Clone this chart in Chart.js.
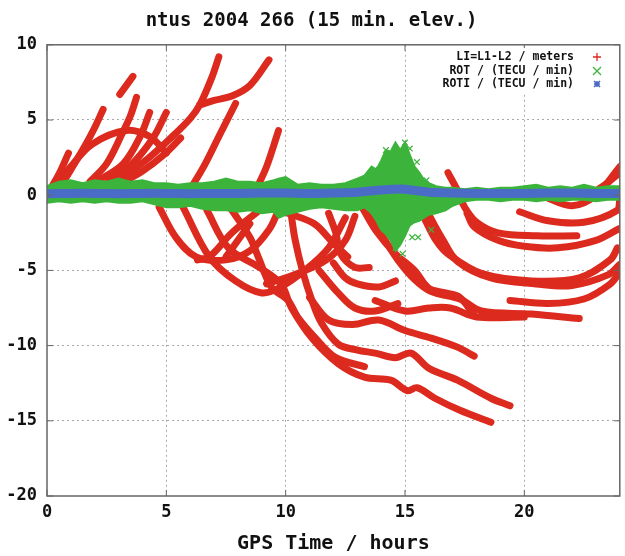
<!DOCTYPE html>
<html>
<head>
<meta charset="utf-8">
<script src="https://cdn.jsdelivr.net/npm/chart.js@4/dist/chart.umd.min.js"></script>
<style>
  html, body { margin: 0; padding: 0; background: #fff; }
  #grafico { display: block; }
</style>
</head>
<body>
<canvas id="grafico" width="625" height="556"></canvas>
<script>
// LI = L1-L2 arcs (hours, meters)
const arcosArriba = [
  [[0.1, 0.3], [0.5, 1.4], [0.9, 2.8]],
  [[0.5, 0.4], [1.0, 1.7], [1.6, 3.3], [2.0, 4.5], [2.35, 5.7]],
  [[3.05, 6.7], [3.6, 7.9]],
  [[1.8, 0.9], [2.5, 2.1], [3.15, 4.1], [3.5, 5.3], [3.75, 6.5]],
  [[2.2, 1.0], [3.2, 2.1], [3.9, 3.9], [4.3, 5.5]],
  [[2.6, 1.0], [3.45, 1.9], [4.4, 3.7], [5.0, 5.5]],
  [[0.4, 0.6], [1.0, 1.9], [1.9, 3.4], [3.3, 4.3], [4.3, 3.9], [5.0, 2.8]],
  [[3.0, 0.7], [4.0, 1.6], [4.9, 2.7], [5.6, 3.8]],
  [[2.9, 0.9], [4.2, 2.4], [5.25, 3.9], [6.0, 5.1], [6.4, 6.0], [6.9, 7.8], [7.2, 9.2]],
  [[6.4, 6.0], [7.0, 6.3], [7.75, 6.6], [8.5, 7.3], [9.3, 9.0]],
  [[6.0, 0.4], [6.6, 2.0], [7.2, 3.9], [7.9, 6.1]],
  [[8.8, 0.5], [9.2, 1.9], [9.7, 4.3]],
  [[20.2, 0.4], [21.0, -0.2], [22.0, -0.7], [23.0, 0.0], [24.0, 1.9]],
  [[22.5, -0.2], [23.3, 0.6], [24.0, 1.5]]
];
const arcosAbajo = [
  [[4.7, -0.8], [5.4, -2.8], [6.25, -4.1], [7.5, -4.3], [8.5, -3.7], [9.3, -2.3], [9.7, -1.0]],
  [[5.7, -0.8], [6.8, -4.1], [7.9, -5.7], [9.0, -6.5], [9.8, -6.1], [10.8, -5.0], [11.8, -3.5], [12.5, -1.5]],
  [[6.7, -1.0], [7.6, -3.5], [8.9, -4.8], [9.8, -5.9], [10.25, -7.5], [11.1, -9.5], [12.2, -11.2], [13.3, -12.1], [14.4, -12.3], [15.1, -13.0], [15.5, -12.8], [16.25, -13.5], [17.3, -14.3], [18.6, -15.1]],
  [[10.25, -1.5], [10.4, -3.0], [10.7, -5.0], [11.1, -7.0], [11.5, -8.5], [12.2, -9.9], [13.0, -10.3], [13.75, -10.5], [14.6, -10.8], [15.25, -10.5], [16.0, -11.5], [17.2, -12.3], [18.6, -13.5], [19.4, -14.0]],
  [[7.75, -1.0], [8.5, -2.8], [8.9, -4.3], [9.4, -6.1], [10.1, -7.0], [10.5, -8.1], [11.25, -9.5], [12.1, -10.8], [13.3, -11.4]],
  [[11.0, -6.8], [11.8, -8.3], [12.8, -8.6], [13.9, -8.3], [15.0, -9.0], [16.1, -9.5], [17.2, -10.1], [17.9, -10.7]],
  [[11.4, -5.0], [12.2, -6.5], [12.9, -7.5], [13.75, -7.7], [14.7, -7.2]],
  [[11.8, -1.2], [12.1, -2.5], [12.3, -3.9], [12.9, -4.8], [13.5, -4.8]],
  [[12.0, -4.5], [12.5, -5.5], [13.0, -5.9], [13.9, -6.1], [14.6, -5.7]],
  [[13.2, -0.8], [13.8, -2.4], [14.6, -3.9], [15.4, -5.0], [16.0, -6.2], [16.7, -6.5], [17.3, -6.8], [17.9, -8.0]],
  [[9.2, -5.9], [10.5, -5.2], [11.7, -4.3], [12.5, -3.0], [12.9, -1.4]],
  [[10.1, -1.2], [11.2, -1.9], [12.0, -3.2], [12.6, -4.1]],
  [[6.3, -4.3], [6.8, -4.1], [7.75, -2.5], [8.9, -1.0]],
  [[7.5, -4.1], [8.0, -3.0], [8.5, -1.9]]
];
const arcosDerecha = [
  [[16.8, 1.5], [17.2, 0.3], [17.5, -0.8], [18.0, -1.8], [18.9, -2.5], [20.5, -2.7], [22.2, -2.7]],
  [[17.6, -1.2], [17.9, -2.1], [18.9, -3.0], [20.0, -3.4], [21.4, -3.5], [23.0, -3.0], [24.0, -2.2]],
  [[19.8, -1.1], [21.0, -1.7], [22.5, -1.8], [23.9, -1.0], [24.0, -0.3]],
  [[15.8, -1.5], [16.3, -3.0], [16.8, -3.9], [18.2, -5.2], [20.3, -5.7], [22.3, -5.5], [23.6, -4.3], [23.9, -3.5]],
  [[16.0, -1.3], [16.6, -3.0], [17.2, -4.4], [18.6, -5.5], [20.5, -5.9], [22.0, -6.0], [23.5, -5.3], [24.0, -4.6]],
  [[19.4, -7.0], [21.0, -7.2], [22.5, -6.9], [23.6, -5.9], [24.0, -5.1]],
  [[13.3, -1.0], [14.0, -2.6], [14.7, -4.3], [15.4, -5.6], [16.1, -6.4], [17.3, -6.9], [18.2, -7.7], [20.3, -7.9], [22.3, -8.2]],
  [[13.75, -7.0], [15.0, -7.7], [16.0, -7.5], [16.9, -7.5], [18.0, -8.1], [20.0, -8.1]]
];

// ROT band (TECU/min): upper and lower edge of the green cloud
const horasRot = [0, 0.5, 1, 1.5, 2, 2.5, 3, 3.5, 4, 4.5, 5, 5.5, 6, 6.5, 7, 7.5, 8, 8.5, 9, 9.5, 9.7, 10, 10.5, 11, 11.5, 12, 12.5, 13, 13.3, 13.6, 13.8, 14.0, 14.2, 14.4, 14.6, 14.8, 15.0, 15.2, 15.4, 15.6, 15.8, 16.0, 16.3, 16.7, 17.0, 17.5, 18, 18.5, 19, 19.5, 20, 20.5, 21, 21.5, 22, 22.5, 23, 23.5, 24];
const rotArriba = [0.6, 0.9, 1.0, 0.8, 1.0, 0.9, 1.1, 0.9, 1.0, 0.8, 0.8, 0.7, 0.8, 0.8, 0.9, 1.1, 0.9, 0.9, 0.8, 1.0, 1.1, 1.2, 0.7, 0.8, 0.7, 0.7, 0.8, 1.1, 1.3, 1.9, 1.7, 2.3, 3.0, 2.9, 3.5, 3.0, 3.5, 2.7, 1.9, 1.5, 1.0, 0.8, 0.6, 0.5, 0.5, 0.4, 0.5, 0.4, 0.5, 0.5, 0.6, 0.7, 0.5, 0.6, 0.5, 0.7, 0.5, 0.6, 0.6];
const rotAbajo = [-0.5, -0.4, -0.5, -0.4, -0.5, -0.4, -0.5, -0.5, -0.4, -0.6, -0.8, -0.8, -0.7, -0.9, -1.0, -1.0, -1.1, -1.0, -1.2, -1.1, -1.5, -1.3, -1.1, -0.9, -0.8, -0.9, -1.0, -1.0, -0.8, -1.2, -1.7, -2.3, -2.6, -3.0, -3.7, -3.3, -2.7, -2.0, -1.8, -1.7, -1.5, -1.3, -1.2, -1.0, -0.7, -0.4, -0.3, -0.3, -0.4, -0.3, -0.3, -0.4, -0.3, -0.4, -0.3, -0.3, -0.4, -0.3, -0.3];
// stray ROT crosses around the 15 h disturbance
const rotSueltosX = [13.3, 13.9, 14.2, 14.4, 15.0, 15.2, 15.5, 15.9, 14.0, 14.6, 14.9, 15.3, 15.55, 16.1];
const rotSueltosY = [1.0, 1.7, 3.0, 2.8, 3.5, 3.1, 2.2, 1.0, -1.9, -3.5, -3.9, -2.8, -2.8, -2.3];

// ROTI (TECU/min)
const horasRoti = [0, 1, 2, 3, 4, 5, 6, 7, 8, 9, 10, 11, 12, 13, 14, 14.5, 15, 15.5, 16, 17, 18, 19, 20, 21, 22, 23, 24];
const rotiValores = [0.1, 0.12, 0.12, 0.1, 0.12, 0.12, 0.1, 0.12, 0.12, 0.15, 0.15, 0.12, 0.15, 0.2, 0.35, 0.4, 0.4, 0.3, 0.2, 0.15, 0.12, 0.12, 0.12, 0.15, 0.15, 0.12, 0.12];

const xTicks = [0, 5, 10, 15, 20];
const yTicks = [-20, -15, -10, -5, 0, 5, 10];

const etiquetas = ['LI=L1-L2 / meters', 'ROT / (TECU / min)', 'ROTI / (TECU / min)'];

const ROJO = '#dc2a1e';
const VERDE = '#3cb43c';
const AZUL = '#4a6cc6';
const FUENTE = "'DejaVu Sans Mono', monospace";

function aPuntos(pares) {
  return pares.map(p => ({ x: p[0], y: p[1] }));
}

const datasets = [];

// blue on top, then green, red underneath (lower order = drawn last)
datasets.push({
  label: etiquetas[2],
  data: horasRoti.map((h, i) => ({ x: h, y: rotiValores[i] })),
  borderColor: AZUL,
  borderWidth: 9,
  pointRadius: 0,
  tension: 0.2,
  order: 0
});

datasets.push({
  label: etiquetas[1],
  data: horasRot.map((h, i) => ({ x: h, y: rotArriba[i] })),
  borderColor: VERDE,
  borderWidth: 2,
  backgroundColor: VERDE,
  pointRadius: 0,
  fill: '+1',
  order: 1
});
datasets.push({
  label: 'rot-abajo',
  data: horasRot.map((h, i) => ({ x: h, y: rotAbajo[i] })),
  borderColor: VERDE,
  borderWidth: 2,
  pointRadius: 0,
  fill: false,
  order: 1
});
datasets.push({
  label: 'rot-sueltos',
  data: rotSueltosX.map((h, i) => ({ x: h, y: rotSueltosY[i] })),
  showLine: false,
  pointStyle: 'crossRot',
  pointRadius: 4,
  pointBorderColor: VERDE,
  pointBorderWidth: 1.2,
  order: 1
});

arcosArriba.concat(arcosAbajo, arcosDerecha).forEach((arco, i) => {
  datasets.push({
    label: 'li-' + i,
    data: aPuntos(arco),
    borderColor: ROJO,
    borderWidth: 7,
    borderCapStyle: 'round',
    borderJoinStyle: 'round',
    pointRadius: 0,
    tension: 0.35,
    fill: false,
    order: 2
  });
});

// gnuplot style frame, inward tick marks and the key box
const marcoYLeyenda = {
  id: 'marcoYLeyenda',
  afterDatasetsDraw(chart) {
    const { ctx, chartArea: a, scales } = chart;
    ctx.save();
    ctx.strokeStyle = '#666';
    ctx.lineWidth = 1.5;
    ctx.strokeRect(a.left, a.top, a.right - a.left, a.bottom - a.top);
    ctx.lineWidth = 1;
    xTicks.forEach(v => {
      const px = scales.x.getPixelForValue(v);
      ctx.beginPath();
      ctx.moveTo(px, a.bottom); ctx.lineTo(px, a.bottom - 6);
      ctx.moveTo(px, a.top); ctx.lineTo(px, a.top + 6);
      ctx.stroke();
    });
    yTicks.forEach(v => {
      const py = scales.y.getPixelForValue(v);
      ctx.beginPath();
      ctx.moveTo(a.left, py); ctx.lineTo(a.left + 6, py);
      ctx.moveTo(a.right, py); ctx.lineTo(a.right - 6, py);
      ctx.stroke();
    });

    // key
    ctx.fillStyle = '#fff';
    ctx.fillRect(448, 48, a.right - 449, 44);
    ctx.font = "bold 11.5px " + FUENTE;
    ctx.fillStyle = '#111';
    ctx.textAlign = 'right';
    ctx.textBaseline = 'middle';
    const filas = [57, 71, 84];
    const sx = 597;
    etiquetas.forEach((t, i) => ctx.fillText(t, 574, filas[i]));
    ctx.lineWidth = 1.3;
    ctx.strokeStyle = ROJO;
    ctx.beginPath();
    ctx.moveTo(sx - 4, filas[0]); ctx.lineTo(sx + 4, filas[0]);
    ctx.moveTo(sx, filas[0] - 4); ctx.lineTo(sx, filas[0] + 4);
    ctx.stroke();
    ctx.strokeStyle = VERDE;
    ctx.beginPath();
    ctx.moveTo(sx - 4, filas[1] - 4); ctx.lineTo(sx + 4, filas[1] + 4);
    ctx.moveTo(sx + 4, filas[1] - 4); ctx.lineTo(sx - 4, filas[1] + 4);
    ctx.stroke();
    ctx.strokeStyle = AZUL;
    ctx.lineWidth = 1.6;
    ctx.beginPath();
    ctx.moveTo(sx - 3, filas[2]); ctx.lineTo(sx + 3, filas[2]);
    ctx.moveTo(sx, filas[2] - 3); ctx.lineTo(sx, filas[2] + 3);
    ctx.moveTo(sx - 3, filas[2] - 3); ctx.lineTo(sx + 3, filas[2] + 3);
    ctx.moveTo(sx + 3, filas[2] - 3); ctx.lineTo(sx - 3, filas[2] + 3);
    ctx.stroke();
    ctx.restore();
  }
};

new Chart(document.getElementById('grafico').getContext('2d'), {
  type: 'line',
  data: { datasets: datasets },
  options: {
    responsive: false,
    animation: false,
    layout: { padding: { left: 0, right: 2, top: 0, bottom: 0 } },
    plugins: {
      legend: { display: false },
      tooltip: { enabled: false },
      title: {
        display: true,
        text: 'ntus 2004 266 (15 min. elev.)',
        color: '#111',
        font: { family: FUENTE, size: 19, weight: 'bold' },
        padding: { top: 10, bottom: 12 }
      }
    },
    scales: {
      x: {
        type: 'linear',
        min: 0,
        max: 24,
        afterFit: s => { s.height = 60; },
        afterBuildTicks: s => { s.ticks = xTicks.map(v => ({ value: v })); },
        ticks: {
          padding: 6,
          maxRotation: 0,
          color: '#111',
          font: { family: FUENTE, size: 17, weight: 'bold' }
        },
        grid: {
          drawTicks: false,
          color: c => (c.tick && c.tick.value === 0) ? 'rgba(0,0,0,0)' : '#aaa'
        },
        border: { display: false, dash: [2, 3] },
        title: {
          display: true,
          text: 'GPS Time / hours',
          color: '#111',
          padding: 0,
          font: { family: FUENTE, size: 20, weight: 'bold' }
        }
      },
      y: {
        type: 'linear',
        min: -20,
        max: 10,
        afterFit: s => { s.width = 47; },
        afterBuildTicks: s => { s.ticks = yTicks.map(v => ({ value: v })); },
        ticks: {
          padding: 10,
          color: '#111',
          font: { family: FUENTE, size: 17, weight: 'bold' }
        },
        grid: {
          drawTicks: false,
          color: c => (c.tick && (c.tick.value === -20 || c.tick.value === 10)) ? 'rgba(0,0,0,0)' : '#aaa'
        },
        border: { display: false, dash: [2, 3] }
      }
    }
  },
  plugins: [marcoYLeyenda]
});
</script>
</body>
</html>
